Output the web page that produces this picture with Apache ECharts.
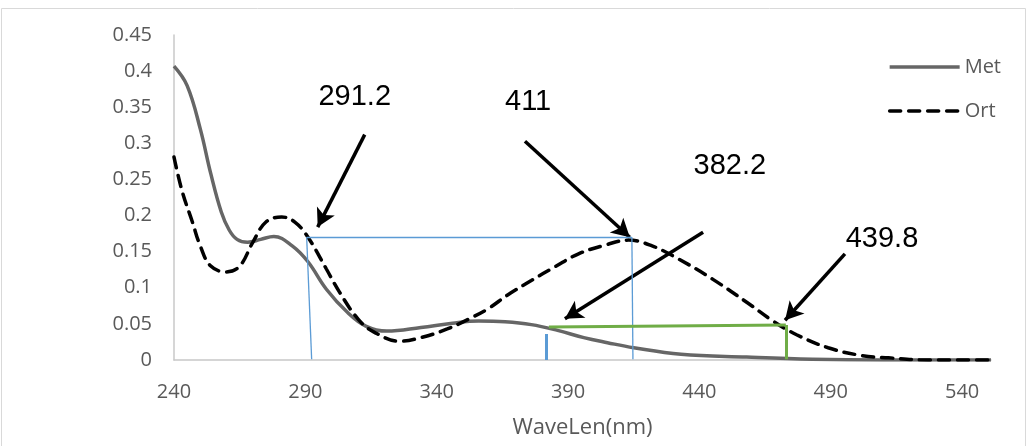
<!DOCTYPE html>
<html>
<head>
<meta charset="utf-8">
<script src="https://cdn.jsdelivr.net/npm/echarts@6/dist/echarts.min.js"></script>
<style>
  html, body { margin: 0; padding: 0; background: #ffffff; }
  #chart { width: 1028px; height: 446px; }
</style>
</head>
<body>
<div id="chart"></div>
<script>
// spectra: [wavelength nm, absorbance]
var metData = [
  [240, 0.407], [245, 0.38], [250, 0.32], [254, 0.258], [258, 0.205],
  [261, 0.180], [264, 0.167], [268, 0.163], [273, 0.167], [278, 0.171],
  [285, 0.158], [291, 0.136], [298, 0.098], [306, 0.066], [313, 0.047],
  [321, 0.040], [334, 0.045], [346, 0.051], [356, 0.054], [366, 0.053],
  [376, 0.049], [386, 0.041], [396, 0.031], [405, 0.024], [415, 0.017],
  [433, 0.008], [458, 0.004], [483, 0.001], [510, 0], [551, 0]
]
var ortData = [
  [240, 0.281], [243, 0.235], [247, 0.191], [250, 0.158], [254, 0.130],
  [260, 0.122], [265, 0.130], [270, 0.163], [275, 0.191], [281, 0.198],
  [286, 0.191], [291, 0.170], [298, 0.126], [303, 0.094], [310, 0.057],
  [316, 0.039], [326, 0.026], [334, 0.031], [344, 0.043], [354, 0.060],
  [360, 0.072], [367, 0.090], [376, 0.110], [385, 0.129], [394, 0.147],
  [404, 0.159], [413, 0.166], [422, 0.158], [432, 0.140], [445, 0.112],
  [458, 0.080], [468, 0.054], [477, 0.035], [489, 0.017], [502, 0.006],
  [512, 0.003], [527, 0], [551, 0]
]
var seriesNames = ['Met', 'Ort']

// annotations (data coordinates)
var labelTexts = ['291.2', '411', '382.2', '439.8']
var labelPos = [[308.8, 0.364], [374.8, 0.357], [451.6, 0.268], [509.5, 0.167]]
var arrows = [
  [[312.6, 0.312], [294.7, 0.184]],
  [[373.6, 0.303], [413.5, 0.170]],
  [[441.4, 0.177], [388.8, 0.057]],
  [[495.4, 0.147], [472.6, 0.055]]
]
var blueLines = [
  [[290.5, 0.170], [414.3, 0.170]],
  [[290.5, 0.170], [292.4, 0.001]],
  [[414.3, 0.170], [414.7, 0.001]]
]
var blueTick = [[381.6, 0.036], [381.6, 0]]
var greenLines = [
  [[382.7, 0.0457], [472.9, 0.0485]],
  [[472.9, 0.0485], [472.9, 0.001]]
]

var chart = echarts.init(document.getElementById('chart'))

function seg (p, style, sym) {
  return [
    { coord: p[0], symbol: 'none', lineStyle: style },
    { coord: p[1], symbol: sym || 'none' }
  ]
}

var markLines = []
arrows.forEach(function (a) {
  markLines.push(seg(a, { color: '#000', width: 3.5, type: 'solid' }, 'arrow'))
})
blueLines.forEach(function (a) {
  markLines.push(seg(a, { color: '#5b9bd5', width: 1.3, type: 'solid' }))
})
markLines.push(seg(blueTick, { color: '#5b9bd5', width: 3, type: 'solid' }))
greenLines.forEach(function (a) {
  markLines.push(seg(a, { color: '#70ad47', width: 3, type: 'solid' }))
})

var option = {
  animation: false,
  textStyle: { fontFamily: 'Open Sans' },
  graphic: [{
    type: 'rect',
    shape: { x: 1.5, y: 8.5, width: 1024, height: 460 },
    style: { fill: 'none', stroke: '#d9d9d9', lineWidth: 1 },
    silent: true
  }],
  grid: { left: 174, right: 37, top: 35, bottom: 86 },
  legend: {
    orient: 'vertical',
    right: 22,
    top: 52,
    itemWidth: 70,
    itemHeight: 14,
    itemGap: 24,
    data: seriesNames,
    itemStyle: { opacity: 0 },
    lineStyle: { width: 3.5 },
    textStyle: { fontSize: 20, color: '#595959', fontFamily: 'Open Sans' }
  },
  xAxis: {
    type: 'value',
    min: 240,
    max: 551,
    interval: 50,
    name: 'WaveLen(nm)',
    nameLocation: 'middle',
    nameGap: 57,
    nameTextStyle: { fontSize: 22, color: '#595959' },
    splitLine: { show: false },
    axisTick: { show: false },
    axisLine: { lineStyle: { color: '#c8c8c8', width: 1.5 } },
    axisLabel: { fontSize: 20, color: '#595959', margin: 22, showMaxLabel: false }
  },
  yAxis: {
    type: 'value',
    min: 0,
    max: 0.45,
    interval: 0.05,
    splitLine: { show: false },
    axisTick: { show: false },
    axisLine: { show: true, lineStyle: { color: '#c8c8c8', width: 1.5 } },
    axisLabel: {
      fontSize: 20,
      color: '#595959',
      margin: 22,
      formatter: function (v) { return String(+v.toFixed(2)) }
    }
  },
  series: [
    {
      name: 'Met',
      type: 'line',
      data: metData,
      smooth: 0.4,
      symbol: 'none',
      lineStyle: { color: '#666666', width: 3.5 },
      itemStyle: { color: '#666666' }
    },
    {
      name: 'Ort',
      type: 'line',
      data: ortData,
      smooth: 0.4,
      symbol: 'none',
      lineStyle: { color: '#000000', width: 3.5, type: [11, 8], cap: 'round' },
      itemStyle: { color: '#000000' }
    },
    {
      name: 'notes',
      type: 'line',
      data: [],
      markLine: {
        silent: true,
        symbolSize: [15, 18],
        label: { show: false },
        emphasis: { disabled: true },
        data: markLines
      },
      markPoint: {
        silent: true,
        symbol: 'circle',
        symbolSize: 1,
        itemStyle: { color: 'rgba(0,0,0,0)' },
        label: {
          show: true,
          position: 'inside',
          fontFamily: 'Liberation Sans',
          fontSize: 29,
          color: '#000000'
        },
        data: labelTexts.map(function (t, i) {
          return { coord: labelPos[i], value: t, label: { formatter: t } }
        })
      }
    }
  ]
}

chart.setOption(option)
</script>
</body>
</html>
